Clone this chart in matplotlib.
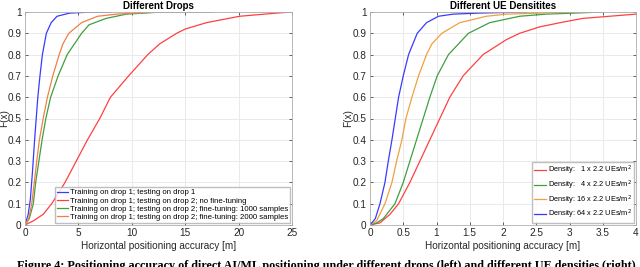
import matplotlib
matplotlib.use("Agg")
import matplotlib.pyplot as plt

plt.rcParams['font.family'] = ['Liberation Sans', 'DejaVu Sans']

# Left panel: CDF points (x in m, F(x))
drop_labels = ["Training on drop 1; testing on drop 1",
               "Training on drop 1; testing on drop 2; no fine-tuning",
               "Training on drop 1; testing on drop 2; fine-tuning: 1000 samples",
               "Training on drop 1; testing on drop 2; fine-tuning: 2000 samples"]

blue_x = [0, 0.3, 0.5, 0.7, 0.9, 1.05, 1.2, 1.4, 1.63, 2.0, 2.45, 3.0, 4.2, 6.0, 8.0]
blue_y = [0, 0.05, 0.12, 0.25, 0.4, 0.5, 0.6, 0.7, 0.8, 0.9, 0.95, 0.98, 0.995, 0.999, 1.0]

red_x = [0, 0.8, 1.7, 2.5, 3.75, 4.8, 5.85, 7.0, 8.0, 9.7, 11.5, 12.6, 14.2, 15.0, 17.0, 20.1, 23.6, 25]
red_y = [0, 0.02, 0.05, 0.1, 0.2, 0.3, 0.4, 0.5, 0.6, 0.7, 0.8, 0.85, 0.9, 0.92, 0.95, 0.98, 0.995, 1.0]

green_x = [0, 0.4, 0.78, 1.0, 1.3, 1.6, 1.95, 2.4, 3.1, 3.95, 5.3, 6.0, 7.6, 9.5, 12.5, 17.5]
green_y = [0, 0.03, 0.1, 0.2, 0.3, 0.4, 0.5, 0.6, 0.7, 0.8, 0.9, 0.94, 0.97, 0.99, 0.999, 1.0]

orange_x = [0, 0.35, 0.63, 0.87, 1.1, 1.35, 1.7, 2.1, 2.6, 3.2, 3.55, 4.1, 5.3, 6.8, 8.6, 12.4]
orange_y = [0, 0.03, 0.1, 0.2, 0.3, 0.4, 0.5, 0.6, 0.7, 0.8, 0.85, 0.9, 0.95, 0.98, 0.99, 1.0]

# Right panel
dens_labels = [r"Density:   1 x 2.2 UEs/m$^2$",
               r"Density:   4 x 2.2 UEs/m$^2$",
               r"Density: 16 x 2.2 UEs/m$^2$",
               r"Density: 64 x 2.2 UEs/m$^2$"]

d1_x = [0, 0.15, 0.3, 0.43, 0.6, 0.75, 0.9, 1.05, 1.2, 1.4, 1.7, 2.05, 2.25, 2.55, 2.86, 3.2, 4.0]
d1_y = [0, 0.01, 0.05, 0.1, 0.2, 0.3, 0.4, 0.5, 0.6, 0.7, 0.8, 0.87, 0.9, 0.93, 0.95, 0.97, 0.99]

d4_x = [0, 0.1, 0.2, 0.376, 0.5, 0.6, 0.7, 0.8, 0.9, 1.01, 1.18, 1.48, 1.8, 2.25, 2.65, 3.5]
d4_y = [0, 0.01, 0.03, 0.1, 0.2, 0.3, 0.4, 0.5, 0.6, 0.7, 0.8, 0.9, 0.95, 0.98, 0.99, 1.0]

d16_x = [0, 0.1, 0.225, 0.33, 0.4, 0.48, 0.54, 0.63, 0.73, 0.85, 0.93, 1.08, 1.35, 1.75, 2.05, 3.15]
d16_y = [0, 0.02, 0.1, 0.2, 0.3, 0.4, 0.5, 0.6, 0.7, 0.8, 0.85, 0.9, 0.95, 0.98, 0.99, 1.0]

d64_x = [0, 0.08, 0.15, 0.225, 0.275, 0.33, 0.38, 0.43, 0.5, 0.58, 0.71, 0.85, 1.03, 1.25, 1.65, 2.35]
d64_y = [0, 0.03, 0.1, 0.2, 0.3, 0.4, 0.5, 0.6, 0.7, 0.8, 0.9, 0.95, 0.98, 0.99, 0.995, 1.0]

caption = ("Figure 4: Positioning accuracy of direct AI/ML positioning under "
           "different drops (left) and different UE densities (right)")

fig = plt.figure(figsize=(6.4, 2.67), dpi=100)
ax1 = fig.add_axes([25/640, 42/267, 267/640, 213/267])
ax2 = fig.add_axes([370/640, 42/267, 266/640, 213/267])

lw = 0.9
ax1.plot(blue_x, blue_y, color='#3a3aff', lw=lw, label=drop_labels[0])
ax1.plot(red_x, red_y, color='#ff4040', lw=lw, label=drop_labels[1])
ax1.plot(green_x, green_y, color='#3ea03e', lw=lw, label=drop_labels[2])
ax1.plot(orange_x, orange_y, color='#f08048', lw=lw, label=drop_labels[3])

ax2.plot(d1_x, d1_y, color='#ff4040', lw=lw, label=dens_labels[0])
ax2.plot(d4_x, d4_y, color='#3ea03e', lw=lw, label=dens_labels[1])
ax2.plot(d16_x, d16_y, color='#f0a040', lw=lw, label=dens_labels[2])
ax2.plot(d64_x, d64_y, color='#3a3aff', lw=lw, label=dens_labels[3])

for ax, xmax, title in [(ax1, 25, "Different Drops"), (ax2, 4, "Different UE Densitites")]:
    ax.set_xlim(0, xmax)
    ax.set_ylim(0, 1)
    ax.set_yticks([i/10 for i in range(11)])
    ax.set_yticklabels(['0', '0.1', '0.2', '0.3', '0.4', '0.5', '0.6', '0.7', '0.8', '0.9', '1'])
    ax.grid(True, color='#e6e6e6', lw=0.6)
    ax.set_axisbelow(True)
    ax.tick_params(direction='in', labelsize=7.2, colors='#262626', length=2, width=0.5,
                   top=True, right=True, pad=2.5)
    for s in ax.spines.values():
        s.set_color('#b0b0b0')
        s.set_linewidth(0.6)
    ax.set_xlabel("Horizontal positioning accuracy [m]", fontsize=7.2, color='#262626', labelpad=2)
    ax.set_ylabel("F(x)", fontsize=7.2, color='#262626')
    ax.set_title(title, fontsize=7, fontweight='bold', pad=2)

ax1.yaxis.set_label_coords(-16/267, 0.5)
ax2.yaxis.set_label_coords(-17/266, 0.5)

ax1.set_xticks([0, 5, 10, 15, 20, 25])
ax2.set_xticks([0, 0.5, 1, 1.5, 2, 2.5, 3, 3.5, 4])
ax2.set_xticklabels(['0', '0.5', '1', '1.5', '2', '2.5', '3', '3.5', '4'])

ax1.legend(loc='lower right', fontsize=5.6, frameon=True, fancybox=False, edgecolor='#b0b0b0',
           handlelength=1.4, borderpad=0.2, labelspacing=0.1, handletextpad=0.3,
           borderaxespad=0.3)
ax2.legend(loc='lower right', fontsize=5.3, frameon=True, fancybox=False, edgecolor='#b0b0b0',
           handlelength=1.7, borderpad=0.2, labelspacing=0.2, handletextpad=0.3,
           borderaxespad=0.3)

fig.text(17/640, 1 - 260/267, caption, fontsize=8.7, fontweight='bold',
         family=['Liberation Serif', 'DejaVu Serif'], va='top', ha='left')

fig.savefig("out.png", dpi=100)
